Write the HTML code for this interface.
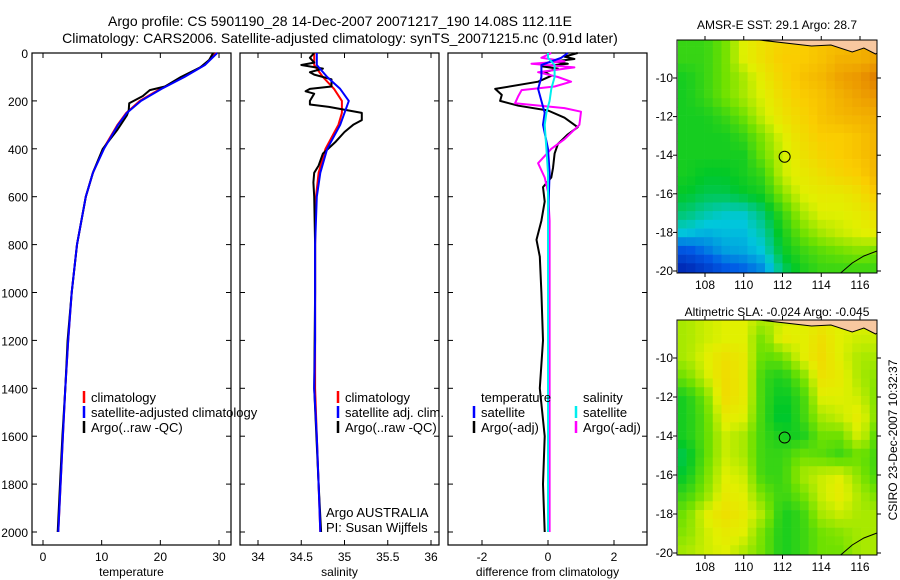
<!DOCTYPE html>
<html><head><meta charset="utf-8">
<style>
body{margin:0;background:#fff;width:900px;height:580px;overflow:hidden}
svg{font-family:"Liberation Sans",sans-serif;display:block}
text{fill:#000}
</style></head>
<body>
<svg id="fig" width="900" height="580" viewBox="0 0 900 580">
<text x="340" y="26" font-size="14" text-anchor="middle">Argo profile: CS 5901190_28 14-Dec-2007 20071217_190 14.08S 112.11E</text>
<text x="340" y="43" font-size="14" text-anchor="middle">Climatology: CARS2006. Satellite-adjusted climatology: synTS_20071215.nc (0.91d later)</text>
<text x="777" y="29" font-size="12" text-anchor="middle">AMSR-E SST: 29.1 Argo: 28.7</text>
<text x="777" y="316" font-size="12" text-anchor="middle">Altimetric SLA: -0.024 Argo: -0.045</text>
<text transform="translate(897,440) rotate(-90)" font-size="12" text-anchor="middle">CSIRO 23-Dec-2007 10:32:37</text>
</svg>
<script>
// ---------- data ----------
const depthTicks=[0,200,400,600,800,1000,1200,1400,1600,1800,2000];
const tempTicks=[0,10,20,30];
const salTicks=[34,34.5,35,35.5,36];
const salTickLabels=["34","34.5","35","35.5","36"];
const diffTicks=[-2,0,2];
const climDepth=[0,50,100,150,200,250,300,400,500,600,800,1000,1200,1400,1600,1800,2000];
const climTemp=[29.5,27.5,24,20,16.5,14.2,12.7,10.3,8.5,7.3,5.8,4.9,4.3,3.8,3.4,3.0,2.6];
const satTemp=[29.7,27.6,24.1,20.2,16.7,14.3,12.8,10.4,8.5,7.3,5.8,4.9,4.3,3.8,3.4,3.0,2.6];
const argoDepth=[0,30,60,100,140,155,180,210,240,260,320,400,500,600,800,1000,1200,1400,1600,1800,2000];
const argoTemp=[29,28.3,26.8,23.5,20.8,18.2,17,14.7,14.6,14.3,12.7,10.2,8.5,7.3,5.8,4.9,4.2,3.8,3.3,2.9,2.5];
const climSal=[34.65,34.65,34.75,34.88,34.97,34.97,34.93,34.78,34.7,34.67,34.66,34.66,34.66,34.66,34.68,34.7,34.72];
const satSal=[34.68,34.68,34.8,34.95,35.05,35.0,34.95,34.8,34.72,34.68,34.66,34.66,34.66,34.65,34.68,34.7,34.72];
const argoSalDepth=[0,20,40,50,65,80,90,110,140,150,160,170,200,215,225,250,280,300,330,370,420,470,500,540,600,800,1000,1400,1800,2000];
const argoSal=[34.65,34.6,34.65,34.5,34.75,34.6,34.65,34.85,34.85,34.6,34.55,34.65,34.6,34.6,34.82,35.2,35.2,35.1,35.0,34.9,34.75,34.7,34.65,34.64,34.65,34.66,34.66,34.65,34.7,34.73];
const dTempDepth=[0,15,25,35,45,55,65,80,95,120,150,175,200,220,240,270,310,340,380,420,480,520,560,620,700,780,850,1000,1200,1400,1600,1800,2000];
const dTempArgo=[0.9,0.5,0.8,0.2,0.6,-0.2,0.3,-0.1,0.1,-0.3,-1.6,-1.4,-1.45,-0.9,0,0.5,0.9,0.6,0.3,0.2,0.15,0.1,-0.15,-0.1,-0.2,-0.35,-0.25,-0.2,-0.15,-0.25,-0.1,-0.15,-0.1];
const dSalDepth=[0,20,35,45,60,80,100,120,140,155,180,210,230,245,300,360,400,460,520,580,700,2000];
const dSalArgo=[0.1,-0.2,0.5,-0.5,0.8,-0.3,0.3,0.7,0.2,-0.8,-0.9,-1.0,0.5,1.0,0.95,0.5,0.1,-0.3,-0.1,0,0.05,0.05];
const dSatDepth=[0,20,50,100,150,200,250,300,400,500,700,1000,2000];
const dTempSat=[0.6,0.4,-0.2,-0.2,-0.3,-0.2,-0.1,-0.15,0,0.05,0,0,0];
const dSalSat=[0,0,0.2,0.2,0.1,0.05,-0.05,-0.1,-0.05,0,0,0,0];
const lonTicks=[108,110,112,114,116];
const latTicks=[-10,-12,-14,-16,-18,-20];
const gridLats=[-8,-9,-10,-11,-12,-13,-14,-15,-16,-17,-18,-19,-20];
const gridLons=[107,108,109,110,111,112,113,114,115,116,117];
const sstGrid=[
[.45,.45,.5,.6,.65,.68,.7,.72,.72,.75,.78],
[.45,.45,.5,.6,.65,.7,.7,.72,.75,.75,.78],
[.42,.45,.5,.55,.62,.68,.72,.74,.78,.8,.85],
[.42,.45,.5,.55,.6,.66,.7,.72,.75,.78,.8],
[.42,.42,.45,.5,.58,.64,.68,.72,.74,.75,.76],
[.42,.42,.42,.45,.52,.6,.66,.7,.7,.72,.75],
[.42,.42,.42,.42,.5,.58,.64,.68,.7,.72,.75],
[.42,.4,.4,.42,.45,.58,.62,.65,.68,.7,.75],
[.4,.38,.38,.4,.42,.52,.6,.62,.62,.65,.72],
[.36,.33,.31,.31,.36,.45,.55,.6,.6,.62,.66],
[.3,.28,.29,.29,.33,.42,.5,.55,.58,.6,.62],
[.18,.22,.26,.27,.3,.4,.45,.48,.5,.52,.5],
[.08,.13,.18,.2,.24,.36,.42,.45,.45,.45,.45]];
const slaGrid=[
[.55,.58,.6,.6,.55,.58,.6,.62,.6,.6,.6],
[.55,.58,.6,.6,.5,.62,.6,.65,.6,.58,.58],
[.55,.6,.65,.62,.48,.5,.6,.66,.6,.55,.55],
[.5,.58,.66,.62,.45,.42,.5,.64,.62,.55,.52],
[.42,.5,.66,.62,.45,.4,.45,.6,.6,.58,.5],
[.42,.48,.62,.6,.45,.38,.45,.55,.58,.62,.5],
[.42,.48,.58,.55,.45,.42,.42,.5,.5,.6,.45],
[.38,.48,.58,.55,.45,.45,.5,.48,.45,.5,.45],
[.4,.5,.6,.58,.45,.45,.55,.58,.6,.52,.45],
[.45,.52,.62,.6,.5,.45,.5,.58,.62,.55,.5],
[.5,.6,.65,.62,.55,.42,.45,.55,.58,.55,.55],
[.52,.58,.62,.6,.5,.42,.45,.5,.52,.55,.55],
[.55,.58,.6,.55,.5,.42,.45,.5,.5,.55,.55]];
const argoLon=112.11, argoLat=-14.08;

// ---------- helpers ----------
const NS="http://www.w3.org/2000/svg";
const svg=document.getElementById('fig');
function mk(tag,attrs,parent){const e=document.createElementNS(NS,tag);for(const k in attrs)e.setAttribute(k,attrs[k]);(parent||svg).appendChild(e);return e;}
const Y0=53, YB=545, dScale=(532-53)/2000;
const yD=d=>Y0+d*dScale;
function axisX(x0,x1,v0,v1){return v=>x0+(v-v0)/(v1-v0)*(x1-x0);}
const xT=axisX(43,219,0,30);
const xS=axisX(258,431,34,36);
const xDf=axisX(482,614,-2,2);
const panels=[{x0:32,x1:231,xs:xT,ticks:tempTicks,labels:tempTicks.map(String),title:"temperature",name:"temperature"},
{x0:240,x1:439,xs:xS,ticks:salTicks,labels:salTickLabels,title:"salinity",name:"salinity"},
{x0:448,x1:647,xs:xDf,ticks:diffTicks,labels:diffTicks.map(String),title:"difference from climatology",name:"difference"}];
panels.forEach((p,i)=>{
  const g=mk('g',{});
  
  
  const r=mk('rect',{x:p.x0,y:Y0,width:p.x1-p.x0,height:YB-Y0,fill:'none',stroke:'#000','stroke-width':1.2},g);
  
  
  p.ticks.forEach((t,j)=>{
    const x=p.xs(t);
    mk('line',{x1:x,x2:x,y1:YB,y2:YB-5,stroke:'#000'},g);
    mk('line',{x1:x,x2:x,y1:Y0,y2:Y0+5,stroke:'#000'},g);
    const tx=mk('text',{x:x,y:561,'font-size':12,'text-anchor':'middle'},g);
    tx.textContent=p.labels[j];
    
    
  });
  depthTicks.forEach(d=>{
    mk('line',{x1:p.x0,x2:p.x0+5,y1:yD(d),y2:yD(d),stroke:'#000'},g);
    mk('line',{x1:p.x1,x2:p.x1-5,y1:yD(d),y2:yD(d),stroke:'#000'},g);
    if(i===0){const t=mk('text',{x:28,y:yD(d)+5,'font-size':12,'text-anchor':'end'},g);t.textContent=d;
      
      }
  });
  const at=mk('text',{x:(p.x0+p.x1)/2,y:576,'font-size':12,'text-anchor':'middle'},g);
  at.textContent=p.title;
  
  
});
function line(xs,vals,depths,color,name,w){
  const pts=vals.map((v,i)=>xs(v).toFixed(1)+','+yD(depths[i]).toFixed(1)).join(' ');
  const e=mk('polyline',{points:pts,fill:'none',stroke:color,'stroke-width':w||2,'stroke-linejoin':'round'});
  
  
}
line(xT,climTemp,climDepth,'#f00','temp-climatology-line');
line(xT,argoTemp,argoDepth,'#000','temp-argo-line');
line(xT,satTemp,climDepth,'#00f','temp-satellite-line');
line(xS,climSal,climDepth,'#f00','sal-climatology-line');
line(xS,argoSal,argoSalDepth,'#000','sal-argo-line');
line(xS,satSal,climDepth,'#00f','sal-satellite-line');
line(xDf,dTempArgo,dTempDepth,'#000','diff-temp-argo-line');
line(xDf,dSalArgo,dSalDepth,'#f0f','diff-sal-argo-line');
line(xDf,dTempSat,dSatDepth,'#00f','diff-temp-satellite-line');
line(xDf,dSalSat,dSatDepth,'#0ee','diff-sal-satellite-line');
function legend(x,y,items,name){
  items.forEach((it,i)=>{
    const yy=y+i*15;
    if(it[0])mk('line',{x1:x,x2:x,y1:yy-6,y2:yy+6,stroke:it[0],'stroke-width':2.5});
    const t=mk('text',{x:x+7,y:yy+5,'font-size':13});t.textContent=it[1];
    
    
  });
}
legend(84,397,[['#f00','climatology'],['#00f','satellite-adjusted climatology'],['#000','Argo(..raw -QC)']],'temp-legend');
legend(338,397,[['#f00','climatology'],['#00f','satellite adj. clim.'],['#000','Argo(..raw -QC)']],'sal-legend');
legend(474,397,[[null,'temperature'],['#00f','satellite'],['#000','Argo(-adj)']],'diff-temp-legend');
legend(576,397,[[null,'salinity'],['#0ee','satellite'],['#f0f','Argo(-adj)']],'diff-sal-legend');
{const t=mk('text',{x:326,y:517,'font-size':13});t.textContent='Argo AUSTRALIA';


const t2=mk('text',{x:326,y:532,'font-size':13});t2.textContent='PI: Susan Wijffels';

}

// ---------- maps ----------
const cstops=[[0,[0,0,140]],[0.2,[0,90,230]],[0.3,[0,200,220]],[0.4,[0,200,40]],[0.5,[110,225,0]],[0.6,[225,240,0]],[0.7,[250,205,0]],[0.8,[235,150,0]],[0.9,[205,90,0]],[1,[150,0,0]]];
function cmap(v){for(let i=1;i<cstops.length;i++){if(v<=cstops[i][0]){const a=cstops[i-1],b=cstops[i],f=(v-a[0])/(b[0]-a[0]);return 'rgb('+a[1].map((c,k)=>Math.round(c+f*(b[1][k]-c))).join(',')+')';}}return 'rgb(150,0,0)';}
function bilin(grid,la,lo){
  let r=(-8-la),c=(lo-107);r=Math.max(0,Math.min(12,r));c=Math.max(0,Math.min(10,c));
  const r0=Math.min(11,Math.floor(r)),c0=Math.min(9,Math.floor(c)),fr=r-r0,fc=c-c0;
  return grid[r0][c0]*(1-fr)*(1-fc)+grid[r0][c0+1]*(1-fr)*fc+grid[r0+1][c0]*fr*(1-fc)+grid[r0+1][c0+1]*fr*fc;
}
function drawMap(top,bottom,grid,name){
  const X0=677,X1=877;
  const lon2x=axisX(705,860,108,116);
  const lat2y=l=>top+38+(-10-l)*((bottom-top-38-2)/10);
  const g=mk('g',{});
  
  
  const cell=0.45;
  for(let la=-7.9;la>-20.4;la-=cell){
    for(let lo=106.6;lo<117.2;lo+=cell){
      const x=lon2x(lo),y=lat2y(la);
      const x2=Math.min(X1,lon2x(lo+cell)),y2=Math.min(bottom,lat2y(la-cell));
      const xa=Math.max(X0,x),ya=Math.max(top,y);
      if(x2<=xa||y2<=ya)continue;
      const r=mk('rect',{x:xa,y:ya,width:x2-xa+0.3,height:y2-ya+0.3,fill:cmap(bilin(grid,la-cell/2,lo+cell/2))},g);
      
      
    }
  }
  // land (top coast)
  const land=mk('path',{d:`M${lon2x(110.8)},${top} L${lon2x(113.5)},${top+6} L${lon2x(114.5)},${top+5} L${lon2x(115.6)},${top+12} L${lon2x(116.2)},${top+8} L${lon2x(116.8)},${top+14} L${X1},${top+13} L${X1},${top} Z`,fill:'#f8c8a0',stroke:'#000','stroke-width':1},g);
  
  
  const coast=mk('path',{d:`M${lon2x(115)},${bottom} L${lon2x(115.6)},${bottom-10} L${lon2x(116.2)},${bottom-17} L${X1},${bottom-22}`,fill:'none',stroke:'#000','stroke-width':1},g);
  
  
  const frame=mk('rect',{x:X0,y:top,width:X1-X0,height:bottom-top,fill:'none',stroke:'#000','stroke-width':1},g);
  
  
  lonTicks.forEach(l=>{const x=lon2x(l);
    mk('line',{x1:x,x2:x,y1:top,y2:top-4,stroke:'#000'},g);
    mk('line',{x1:x,x2:x,y1:bottom,y2:bottom+4,stroke:'#000'},g);
    const t=mk('text',{x:x,y:bottom+16,'font-size':12,'text-anchor':'middle'},g);t.textContent=l;
    
    });
  latTicks.forEach(l=>{const y=lat2y(l);
    mk('line',{x1:X0,x2:X0-4,y1:y,y2:y,stroke:'#000'},g);
    mk('line',{x1:X1,x2:X1+4,y1:y,y2:y,stroke:'#000'},g);
    const t=mk('text',{x:673,y:y+4,'font-size':12,'text-anchor':'end'},g);t.textContent=l;
    
    });
  const c=mk('circle',{cx:lon2x(argoLon),cy:lat2y(argoLat),r:5.5,fill:'none',stroke:'#000','stroke-width':1},g);
  
  
}
drawMap(40,273,sstGrid,'sst-map');
drawMap(320,555,slaGrid,'sla-map');
</script>
</body></html>
